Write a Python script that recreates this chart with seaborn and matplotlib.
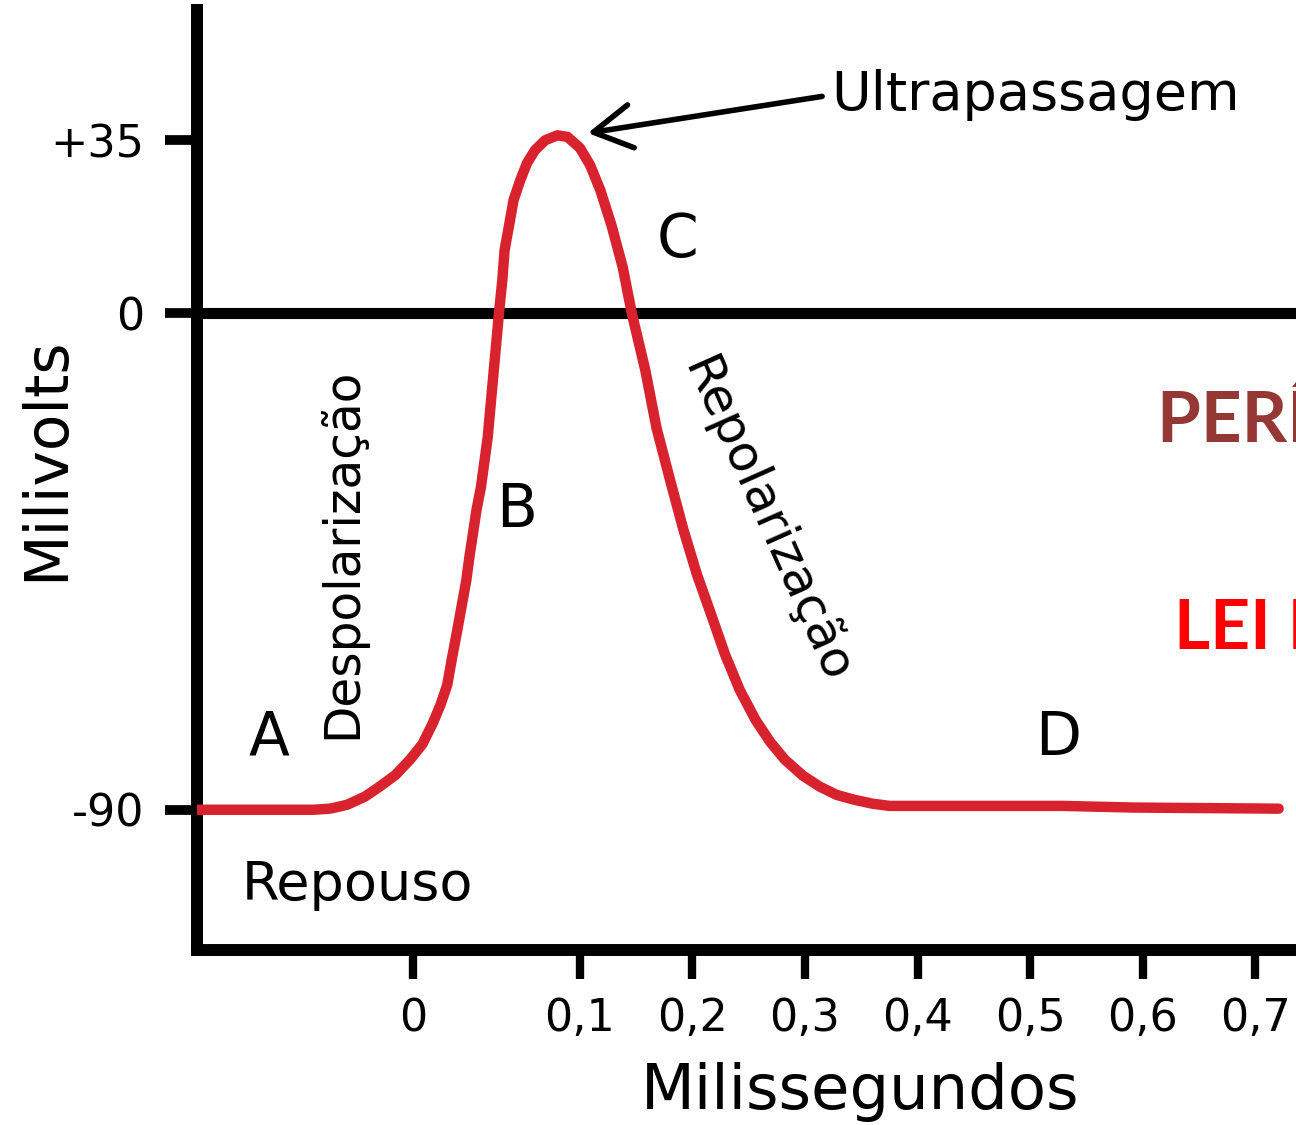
import numpy as np
import pandas as pd
import seaborn as sns
import matplotlib.pyplot as plt

# action potential trace (ms, mV)
time_ms = [-0.240, -0.137, -0.122, -0.107, -0.091, -0.078, -0.064, -0.051, -0.040,
           -0.031, -0.024, -0.018, -0.014, -0.009, -0.005, -0.001, 0.002, 0.005,
           0.008, 0.012, 0.015, 0.018, 0.020, 0.022, 0.024, 0.026, 0.028, 0.031,
           0.033, 0.037, 0.041, 0.047, 0.053, 0.060, 0.069, 0.080, 0.089, 0.100,
           0.109, 0.118, 0.128, 0.138, 0.146, 0.158, 0.168, 0.180, 0.192, 0.204,
           0.216, 0.229, 0.242, 0.256, 0.269, 0.282, 0.298, 0.313, 0.328, 0.344,
           0.360, 0.375, 0.429, 0.529, 0.592, 0.721]
voltage_mv = [-90.0, -90.0, -89.8, -89.1, -87.6, -85.8, -83.7, -80.9, -78.1,
              -74.4, -71.0, -67.4, -62.8, -57.4, -52.9, -48.4, -43.8, -39.8,
              -35.7, -31.5, -27.0, -22.5, -18.0, -13.5, -9.0, -4.5, 0.0, 6.0,
              11.4, 15.9, 20.5, 24.1, 27.2, 29.5, 31.3, 32.2, 31.9, 29.9,
              26.8, 22.3, 15.9, 8.3, 0.0, -10.3, -20.8, -30.2, -39.3, -47.4,
              -54.3, -61.9, -68.3, -73.7, -77.7, -80.9, -83.8, -85.8, -87.3, -88.2,
              -88.9, -89.3, -89.3, -89.3, -89.6, -89.8]

xtick_pos = [-0.048, 0.1, 0.2, 0.3, 0.4, 0.5, 0.6, 0.7]
xtick_labels = ["0", "0,1", "0,2", "0,3", "0,4", "0,5", "0,6", "0,7"]
ytick_pos = [31.3, 0, -90]
ytick_labels = ["+35", "0", "-90"]

phase_letters = ["A", "B", "C", "D"]
phase_x = [-0.176, 0.044, 0.187, 0.525]
phase_y = [-77.0, -35.7, 13.2, -77.0]

df = pd.DataFrame({"t": time_ms, "v": voltage_mv})

sns.set_style("white")
plt.rcParams["font.family"] = ["DejaVu Sans"]
plt.rcParams["text.color"] = "black"
plt.rcParams["axes.labelcolor"] = "black"
plt.rcParams["xtick.color"] = "black"
plt.rcParams["ytick.color"] = "black"

fig = plt.figure(figsize=(12.96, 11.25), dpi=100)
ax = fig.add_axes([0.152, 0.1556, 0.848, 0.8355])

ax.axhline(0, color="black", lw=8, zorder=2, solid_capstyle="butt")
sns.lineplot(data=df, x="t", y="v", ax=ax, color="#d8232f", lw=7.5,
             sort=False, zorder=3, solid_joinstyle="round", solid_capstyle="round")

ax.set_xlim(-0.2404, 0.7364)
ax.set_ylim(-115.4, 54.9)

for side in ["top", "right"]:
    ax.spines[side].set_visible(False)
for side in ["left", "bottom"]:
    ax.spines[side].set_linewidth(8.6)
    ax.spines[side].set_color("black")

ax.set_xticks(xtick_pos)
ax.set_xticklabels(xtick_labels)
ax.set_yticks(ytick_pos)
ax.set_yticklabels(ytick_labels)
ax.tick_params(axis="x", direction="out", length=21, width=6, pad=13,
               labelsize=32, bottom=True)
ax.tick_params(axis="y", direction="out", length=23, width=7, pad=15,
               labelsize=32, left=True)

ax.set_xlabel("Milissegundos", fontsize=45, va="center")
ax.xaxis.set_label_coords(0.603, -0.151)
ax.set_ylabel("Milivolts", fontsize=43, va="center")
ax.yaxis.set_label_coords(-0.1365, 0.523)

for letter, x, y in zip(phase_letters, phase_x, phase_y):
    ax.text(x, y, letter, fontsize=43, ha="center", va="center")

ax.text(-0.098, -103.6, "Repouso", fontsize=39, ha="center", va="center")
ax.text(-0.112, -43.5, "Despolarização", fontsize=35, rotation=90,
        ha="center", va="center", rotation_mode="anchor")
ax.text(0.266, -37.6, "Repolarização", fontsize=36, rotation=-66,
        ha="center", va="center", rotation_mode="anchor")

ax.annotate("Ultrapassagem", xy=(0.107, 32.6), xytext=(0.323, 39.5),
            fontsize=39, ha="left", va="center",
            arrowprops=dict(arrowstyle="->,head_length=0.7,head_width=0.4",
                            lw=4, color="black", relpos=(0, 0.5),
                            shrinkA=4, shrinkB=0))

ax.text(0.613, -19.4, "PERÍODO REFRATÁRIO", fontsize=51, fontweight="bold",
        family="Lato", color="#953735", ha="left", va="center", clip_on=False)
ax.text(0.628, -57.4, "LEI DO TUDO OU NADA", fontsize=50, fontweight="bold",
        family="Lato", color="#ff0000", ha="left", va="center", clip_on=False)

fig.savefig("out.png", dpi=100)
